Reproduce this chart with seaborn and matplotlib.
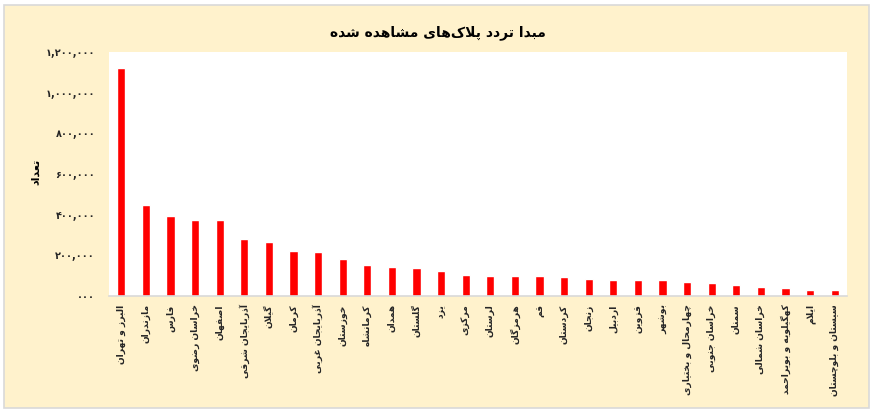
import matplotlib
matplotlib.use("Agg")
import matplotlib.pyplot as plt
from matplotlib.patches import Rectangle
import seaborn as sns
import pandas as pd

# ---------------- data ----------------
provinces = [
    "البرز و تهران", "مازندران", "فارس", "خراسان رضوی", "اصفهان",
    "آذربایجان شرقی", "گیلان", "کرمان", "آذربایجان غربی", "خوزستان",
    "کرمانشاه", "همدان", "گلستان", "یزد", "مرکزی",
    "لرستان", "هرمزگان", "قم", "کردستان", "زنجان",
    "اردبیل", "قزوین", "بوشهر", "چهارمحال و بختیاری", "خراسان جنوبی",
    "سمنان", "خراسان شمالی", "کهگیلویه و بویراحمد", "ایلام", "سیستان و بلوچستان",
]
counts = [
    1121000, 448000, 394000, 373000, 372000,
    281000, 264000, 223000, 215000, 182000,
    151000, 143000, 140000, 123000, 102000,
    100000, 98500, 97000, 92000, 85000,
    80000, 79000, 78000, 67000, 62000,
    52000, 43000, 38000, 31000, 29000,
]
y_ticks = [0, 200000, 400000, 600000, 800000, 1000000, 1200000]
title_text = "مبدا تردد پلاک‌های مشاهده شده"
ylabel_text = "تعداد"

# ---------------- simple Persian shaping ----------------
_FORMS = {
    "\u0627": (0xFE8D, 0xFE8E), "\u0622": (0xFE81, 0xFE82),
    "\u062F": (0xFEA9, 0xFEAA), "\u0630": (0xFEAB, 0xFEAC),
    "\u0631": (0xFEAD, 0xFEAE), "\u0632": (0xFEAF, 0xFEB0),
    "\u0698": (0xFB8A, 0xFB8B), "\u0648": (0xFEED, 0xFEEE),
    "\u0628": (0xFE8F, 0xFE90, 0xFE91, 0xFE92),
    "\u067E": (0xFB56, 0xFB57, 0xFB58, 0xFB59),
    "\u062A": (0xFE95, 0xFE96, 0xFE97, 0xFE98),
    "\u062C": (0xFE9D, 0xFE9E, 0xFE9F, 0xFEA0),
    "\u0686": (0xFB7A, 0xFB7B, 0xFB7C, 0xFB7D),
    "\u062D": (0xFEA1, 0xFEA2, 0xFEA3, 0xFEA4),
    "\u062E": (0xFEA5, 0xFEA6, 0xFEA7, 0xFEA8),
    "\u0633": (0xFEB1, 0xFEB2, 0xFEB3, 0xFEB4),
    "\u0634": (0xFEB5, 0xFEB6, 0xFEB7, 0xFEB8),
    "\u0635": (0xFEB9, 0xFEBA, 0xFEBB, 0xFEBC),
    "\u0636": (0xFEBD, 0xFEBE, 0xFEBF, 0xFEC0),
    "\u0637": (0xFEC1, 0xFEC2, 0xFEC3, 0xFEC4),
    "\u0638": (0xFEC5, 0xFEC6, 0xFEC7, 0xFEC8),
    "\u0639": (0xFEC9, 0xFECA, 0xFECB, 0xFECC),
    "\u063A": (0xFECD, 0xFECE, 0xFECF, 0xFED0),
    "\u0641": (0xFED1, 0xFED2, 0xFED3, 0xFED4),
    "\u0642": (0xFED5, 0xFED6, 0xFED7, 0xFED8),
    "\u06A9": (0xFB8E, 0xFB8F, 0xFB90, 0xFB91),
    "\u06AF": (0xFB92, 0xFB93, 0xFB94, 0xFB95),
    "\u0644": (0xFEDD, 0xFEDE, 0xFEDF, 0xFEE0),
    "\u0645": (0xFEE1, 0xFEE2, 0xFEE3, 0xFEE4),
    "\u0646": (0xFEE5, 0xFEE6, 0xFEE7, 0xFEE8),
    "\u0647": (0xFEE9, 0xFEEA, 0xFEEB, 0xFEEC),
    "\u06CC": (0xFBFC, 0xFBFD, 0xFBFE, 0xFBFF),
}
_LAMALEF = {"\u0627": (0xFEFB, 0xFEFC), "\u0622": (0xFEF5, 0xFEF6)}


def _dual(c):
    return c in _FORMS and len(_FORMS[c]) == 4


def shape(text):
    chars = list(text)
    out = []
    i = 0
    n = len(chars)
    while i < n:
        c = chars[i]
        if c == "\u200c":
            i += 1
            continue
        prev = chars[i - 1] if i > 0 else None
        join_prev = prev is not None and _dual(prev) and c in _FORMS
        if c == "\u0644" and i + 1 < n and chars[i + 1] in _LAMALEF:
            iso, fin = _LAMALEF[chars[i + 1]]
            out.append(chr(fin if join_prev else iso))
            i += 2
            continue
        if c not in _FORMS:
            out.append(c)
            i += 1
            continue
        forms = _FORMS[c]
        nxt = chars[i + 1] if i + 1 < n else None
        join_next = _dual(c) and nxt is not None and nxt in _FORMS
        if join_prev and join_next:
            ch = forms[3]
        elif join_prev:
            ch = forms[1]
        elif join_next:
            ch = forms[2]
        else:
            ch = forms[0]
        out.append(chr(ch))
        i += 1
    return "".join(reversed(out))


_FA_DIGITS = str.maketrans("0123456789", "۰۱۲۳۴۵۶۷۸۹")


def fa_num(v):
    if v == 0:
        return "۰۰۰"
    return f"{int(v):,}".translate(_FA_DIGITS)


# ---------------- plot ----------------
sns.set_theme(style="white")
plt.rcParams["font.family"] = ["DejaVu Sans"]

df = pd.DataFrame({"province": [shape(p) for p in provinces], "count": counts})

W, H = 874, 415
fig = plt.figure(figsize=(W / 100, H / 100), dpi=100, facecolor="white")
bg = Rectangle((4 / W, 1 - 408 / H), 865 / W, 403 / H,
               transform=fig.transFigure, facecolor="#FFF2CC",
               edgecolor="#D9D9D9", linewidth=1.2, zorder=-10)
fig.add_artist(bg)

ax = fig.add_axes([109 / W, 1 - 296 / H, (847 - 109) / W, (296 - 52) / H])
ax.set_zorder(5)
ax.set_facecolor("white")
sns.barplot(data=df, x="province", y="count", color="#FF0000", saturation=1,
            width=0.34, ax=ax)

ax.set_ylim(0, 1200000)
ax.set_xlim(-0.5, len(provinces) - 0.5)
ax.set_yticks(y_ticks)
ax.set_yticklabels([fa_num(v) for v in y_ticks], fontsize=7, fontweight="bold")
ax.tick_params(axis="y", length=0, pad=10)
ax.tick_params(axis="x", length=0, pad=6)
for lab in ax.get_xticklabels():
    lab.set_rotation(90)
    lab.set_fontsize(6.6)
    lab.set_fontweight("bold")
ax.set_xlabel("")
ax.set_ylabel("")
for s in ["top", "right", "left"]:
    ax.spines[s].set_visible(False)
ax.spines["bottom"].set_color("#D9D9D9")
ax.spines["bottom"].set_linewidth(1.2)
ax.grid(False)

fig.text(438 / W, 1 - 33 / H, shape(title_text), ha="center", va="center",
         fontsize=10, fontweight="bold", color="black")
fig.text(36 / W, 1 - 172 / H, shape(ylabel_text), ha="center", va="center",
         rotation=90, fontsize=8, fontweight="bold", color="black")

fig.savefig("out.png", dpi=100, facecolor="white")
